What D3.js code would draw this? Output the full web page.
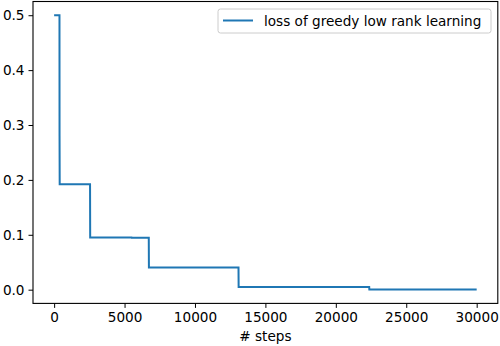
<!DOCTYPE html>
<html>
<head>
<meta charset="utf-8">
<script src="https://d3js.org/d3.v7.min.js"></script>
<style>
  body { margin: 0; background: #fff; }
  svg { font-family: "DejaVu Sans", sans-serif; }
</style>
</head>
<body>
<svg id="drawing_region"></svg>
<script>
// loss curve
var steps = [0, 380, 385, 395, 2550, 2560, 5500, 5510, 6720, 6730, 13090, 13100, 22370, 22380, 30000];
var loss  = [0.5, 0.5, 0.28, 0.192, 0.192, 0.0951, 0.0951, 0.0945, 0.0945, 0.0405, 0.0405, 0.0049, 0.0049, 0.0004, 0.0004];
var xticks = [0, 5000, 10000, 15000, 20000, 25000, 30000];
var yticks = [0.0, 0.1, 0.2, 0.3, 0.4, 0.5];
var series_label = "loss of greedy low rank learning";
var xlabel = "# steps";

var data = steps.map((s, i) => ({x: s, y: loss[i]}));

var font_size = 13.6;

var config = {
    width: 500,
    height: 346,
    margin: {top: 1.5, right: 2.2, bottom: 42.6, left: 33}
};

var svg = d3.select('#drawing_region')
    .attr('width', config.width)
    .attr('height', config.height);

var inner_width = config.width - config.margin.left - config.margin.right;
var inner_height = config.height - config.margin.top - config.margin.bottom;

var chart = svg.append('g')
    .attr('transform', `translate(${config.margin.left}, ${config.margin.top})`);

// matplotlib-like 5% margins
var xscale = d3.scaleLinear()
    .domain([-1500, 31500])
    .range([0, inner_width]);

var yscale = d3.scaleLinear()
    .domain([-0.025, 0.525])
    .range([inner_height, 0]);

var xaxis = d3.axisBottom(xscale)
    .tickValues(xticks)
    .tickFormat(d3.format('d'))
    .tickSize(4.5)
    .tickPadding(4.5)
    .tickSizeOuter(0);

var yaxis = d3.axisLeft(yscale)
    .tickValues(yticks)
    .tickFormat(d3.format('.1f'))
    .tickSize(4.5)
    .tickPadding(4)
    .tickSizeOuter(0);

var xaxis_group = chart.append('g')
    .attr('transform', `translate(0, ${inner_height})`)
    .call(xaxis);

var yaxis_group = chart.append('g')
    .call(yaxis);

[xaxis_group, yaxis_group].forEach(g => {
    g.select('.domain').remove();
    g.selectAll('.tick line').attr('stroke', '#000').attr('stroke-width', 1);
    g.selectAll('.tick text').attr('fill', '#000').attr('font-size', font_size)
        .attr('font-family', '"DejaVu Sans", sans-serif');
});

var line = d3.line()
    .x(d => xscale(d.x))
    .y(d => yscale(d.y));

chart.append('path')
    .datum(data)
    .attr('d', line)
    .attr('fill', 'none')
    .attr('stroke', '#1f77b4')
    .attr('stroke-width', 2)
    .attr('stroke-linejoin', 'miter');

// frame
chart.append('rect')
    .attr('x', 0)
    .attr('y', 0)
    .attr('width', inner_width)
    .attr('height', inner_height)
    .attr('fill', 'none')
    .attr('stroke', '#000')
    .attr('stroke-width', 1.1);

chart.append('text')
    .attr('x', inner_width / 2)
    .attr('y', inner_height + 37.5)
    .attr('text-anchor', 'middle')
    .attr('font-size', font_size)
    .text(xlabel);

// legend
var legend = svg.append('g')
    .attr('transform', 'translate(218, 9)');

legend.append('rect')
    .attr('width', 273)
    .attr('height', 24)
    .attr('rx', 2.5)
    .attr('fill', '#fff')
    .attr('fill-opacity', 0.8)
    .attr('stroke', '#ccc')
    .attr('stroke-width', 1);

legend.append('line')
    .attr('x1', 5)
    .attr('x2', 35)
    .attr('y1', 11.5)
    .attr('y2', 11.5)
    .attr('stroke', '#1f77b4')
    .attr('stroke-width', 2);

legend.append('text')
    .attr('x', 46)
    .attr('y', 16.5)
    .attr('font-size', font_size)
    .text(series_label);
</script>
</body>
</html>
